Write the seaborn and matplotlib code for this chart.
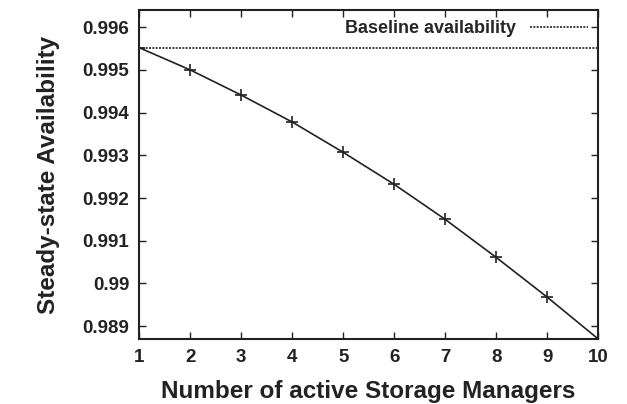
import matplotlib
matplotlib.use("Agg")
import matplotlib.pyplot as plt
import seaborn as sns
import pandas as pd

# Steady-state availability versus number of active storage managers
managers = [1, 2, 3, 4, 5, 6, 7, 8, 9, 10]
availability = [0.99552, 0.99500, 0.99441, 0.99378, 0.99307,
                0.99232, 0.99150, 0.99061, 0.98968, 0.98870]
baseline = 0.99552
baseline_label = "Baseline availability"

yticks = [0.989, 0.990, 0.991, 0.992, 0.993, 0.994, 0.995, 0.996]
ytick_labels = ["0.989", "0.99", "0.991", "0.992", "0.993", "0.994", "0.995", "0.996"]
xticks = managers

sns.set_theme(style="ticks")
plt.rcParams["font.family"] = ["Liberation Sans", "DejaVu Sans"]
plt.rcParams["font.weight"] = "bold"

df = pd.DataFrame({"managers": managers, "availability": availability})

fig = plt.figure(figsize=(6.27, 4.04), dpi=100)
ax = fig.add_axes([0.222, 0.161, 0.732, 0.814])

sns.lineplot(data=df, x="managers", y="availability", ax=ax,
             color="#222222", linewidth=1.2, marker="+", markersize=8,
             markeredgewidth=1.2, markeredgecolor="#222222", legend=False)
ax.axhline(baseline, color="#222222", linestyle=(0, (1.2, 0.8)),
           linewidth=1.2, label=baseline_label)

ax.set_xlim(1, 10)
ax.set_ylim(0.9887, 0.9964)
ax.set_xticks(xticks)
ax.set_xticklabels([str(v) for v in xticks])
ax.set_yticks(yticks)
ax.set_yticklabels(ytick_labels)

ax.tick_params(direction="in", length=5, width=1, top=True, right=True,
               labelsize=13.5, colors="#222222", pad=7)
for lab in ax.get_xticklabels() + ax.get_yticklabels():
    lab.set_fontweight("bold")
for sp in ax.spines.values():
    sp.set_visible(True)
    sp.set_linewidth(1.5)
    sp.set_color("#222222")

ax.set_xlabel("Number of active Storage Managers", fontsize=17.5,
              fontweight="bold", color="#222222", labelpad=10)
ax.set_ylabel("Steady-state Availability", fontsize=17.5,
              fontweight="bold", color="#222222", labelpad=16)

handles = [h for h in ax.get_lines() if h.get_label() == baseline_label]
ax.legend(handles=handles, loc="upper right", frameon=False, markerfirst=False,
          prop={"weight": "bold", "size": 13}, handlelength=3.2,
          borderaxespad=0.25, handletextpad=0.8, borderpad=0.3)

fig.savefig("out.png", dpi=100, facecolor="white")
